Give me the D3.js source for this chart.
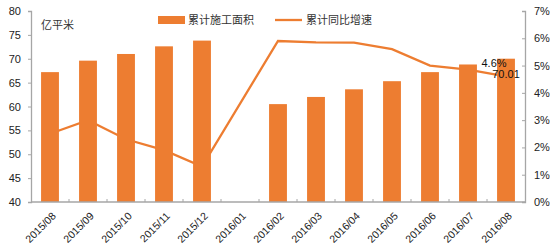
<!DOCTYPE html>
<html><head><meta charset="utf-8">
<script src="https://cdn.jsdelivr.net/npm/d3@7/dist/d3.min.js"></script>
<style>body{margin:0;background:#fff}svg{display:block}</style>
</head><body><svg id="c" width="556" height="249"></svg>
<script>
const categories = ["2015/08","2015/09","2015/10","2015/11","2015/12","2016/01","2016/02","2016/03","2016/04","2016/05","2016/06","2016/07","2016/08"];
const areaValues = [67.2, 69.6, 71.0, 72.6, 73.8, null, 60.5, 62.0, 63.6, 65.3, 67.2, 68.8, 70.01];
const growthValues = [2.5, 3.0, 2.3, 1.9, 1.3, null, 5.9, 5.85, 5.84, 5.6, 5.0, 4.85, 4.6];
const leftTicks = [40, 45, 50, 55, 60, 65, 70, 75, 80];
const rightTicks = [0, 1, 2, 3, 4, 5, 6, 7];
const seriesNames = ["累计施工面积", "累计同比增速"];
const unitLabel = "亿平米";

const svg = d3.select("#c");
const L = 31, R = 525, T = 11, B = 202;
const color = "#ED7D31", axisColor = "#a6a6a6";
const cjk = "'Noto Sans CJK SC', sans-serif";
const latin = "'Liberation Sans', Arial, sans-serif";

const x = d3.scaleBand().domain(categories).range([L, R]).paddingInner(0.53).paddingOuter(0.265);
const xc = d3.scaleBand().domain(categories).range([L, R]);
const yL = d3.scaleLinear().domain([40, 80]).range([B, T]);
const yR = d3.scaleLinear().domain([0, 7]).range([B, T]);

// line (drawn behind bars)
const pts = categories.map((c, i) => ({c, v: growthValues[i]})).filter(d => d.v != null);
svg.append("path")
  .attr("d", d3.line().x(d => xc(d.c) + xc.bandwidth()/2).y(d => yR(d.v))(pts))
  .attr("fill", "none").attr("stroke", color).attr("stroke-width", 2.3);

// bars
svg.append("g").selectAll("rect")
  .data(categories.map((c, i) => ({c, v: areaValues[i]})).filter(d => d.v != null))
  .join("rect")
  .attr("x", d => x(d.c)).attr("width", x.bandwidth())
  .attr("y", d => yL(d.v)).attr("height", d => B - yL(d.v))
  .attr("fill", color);

// left axis
const gl = svg.append("g").attr("transform", `translate(${L},0)`)
  .call(d3.axisLeft(yL).tickValues(leftTicks).tickSize(3).tickPadding(7).tickFormat(d3.format("d")));
// right axis
const gr = svg.append("g").attr("transform", `translate(${R},0)`)
  .call(d3.axisRight(yR).tickValues(rightTicks).tickSize(-3).tickPadding(9).tickFormat(d => d + "%"));
[gl, gr].forEach(g => {
  g.select(".domain").attr("stroke", axisColor).attr("stroke-width", 1.3);
  g.selectAll(".tick line").attr("stroke", axisColor);
  g.selectAll("text").attr("font-family", latin).attr("font-size", 11).attr("fill", "#222");
});

// bottom axis
const gb = svg.append("g").attr("transform", `translate(0,${B})`);
gb.append("line").attr("x1", L).attr("x2", R).attr("stroke", axisColor).attr("stroke-width", 1.3);
gb.selectAll(".tk").data(categories.slice(1)).join("line")
  .attr("x1", d => xc(d)).attr("x2", d => xc(d)).attr("y1", 0).attr("y2", -3)
  .attr("stroke", axisColor);
gb.selectAll(".lbl").data(categories).join("text")
  .attr("transform", d => `translate(${xc(d) + xc.bandwidth()/2 + 4},${12}) rotate(-45)`)
  .attr("text-anchor", "end").attr("dy", "0.35em")
  .attr("font-family", latin).attr("font-size", 10.5).attr("fill", "#222")
  .text(d => d);

// unit label
svg.append("text").attr("x", 41).attr("y", 29).attr("font-family", cjk).attr("font-size", 11).attr("fill", "#333").text(unitLabel);

// legend
svg.append("rect").attr("x", 158).attr("y", 16).attr("width", 27).attr("height", 8).attr("fill", color);
svg.append("text").attr("x", 188).attr("y", 24).attr("font-family", cjk).attr("font-size", 11).attr("fill", "#333").text(seriesNames[0]);
svg.append("line").attr("x1", 275).attr("x2", 302).attr("y1", 20).attr("y2", 20).attr("stroke", color).attr("stroke-width", 2.3);
svg.append("text").attr("x", 306).attr("y", 24).attr("font-family", cjk).attr("font-size", 11).attr("fill", "#333").text(seriesNames[1]);

// data labels for last point
const last = categories.length - 1;
const cxl = xc(categories[last]) + xc.bandwidth()/2;
svg.append("text").attr("x", cxl - 12).attr("y", yR(growthValues[last]) - 9)
  .attr("text-anchor", "middle").attr("font-family", latin).attr("font-size", 11).attr("fill", "#111")
  .text(growthValues[last].toFixed(1) + "%");
svg.append("text").attr("x", cxl).attr("y", yL(areaValues[last]) + 19)
  .attr("text-anchor", "middle").attr("font-family", latin).attr("font-size", 11).attr("fill", "#111")
  .text(areaValues[last].toFixed(2));
</script></body></html>
